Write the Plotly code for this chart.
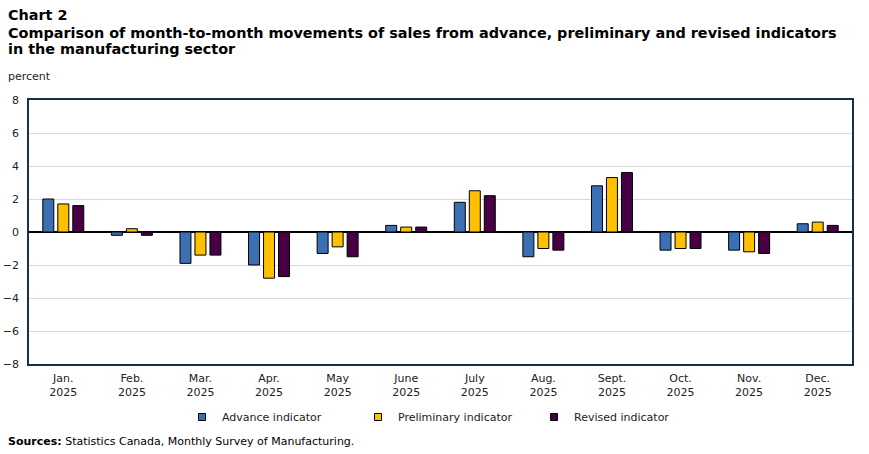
import plotly.graph_objects as go

months = ["Jan.", "Feb.", "Mar.", "Apr.", "May", "June", "July", "Aug.", "Sept.", "Oct.", "Nov.", "Dec."]
year = "2025"
categories = [f"{m}<br>{year}" for m in months]

advance = [2.0, -0.2, -1.9, -2.0, -1.3, 0.4, 1.8, -1.5, 2.8, -1.1, -1.1, 0.5]
preliminary = [1.7, 0.2, -1.4, -2.8, -0.9, 0.3, 2.5, -1.0, 3.3, -1.0, -1.2, 0.6]
revised = [1.6, -0.2, -1.4, -2.7, -1.5, 0.3, 2.2, -1.1, 3.6, -1.0, -1.3, 0.4]

series_names = ["Advance indicator", "Preliminary indicator", "Revised indicator"]
series_values = [advance, preliminary, revised]
colors = ["#3b70b5", "#ffc000", "#470044"]

y_ticks = [-8, -6, -4, -2, 0, 2, 4, 6, 8]

title_lines = [
    "Chart 2",
    "Comparison of month-to-month movements of sales from advance, preliminary and revised indicators",
    "in the manufacturing sector",
]

FONT = "Verdana, DejaVu Sans, sans-serif"
TITLE_FONT = "Verdana, DejaVu Sans, sans-serif"

W, H = 869, 454
ML, MR, MT, MB = 29, 17, 100, 90
PW, PH = W - ML - MR, H - MT - MB


def px_x(x):
    return (x - ML) / PW


def px_y(y):
    return (H - MB - y) / PH


fig = go.Figure()
for name, vals, col in zip(series_names, series_values, colors):
    fig.add_trace(go.Bar(
        x=categories, y=vals, name=name, showlegend=False,
        marker=dict(color=col, line=dict(color="#000000", width=1)),
    ))
for name, col in zip(series_names, colors):
    fig.add_trace(go.Scatter(
        x=[None], y=[None], mode="markers", name=name,
        marker=dict(symbol="square", size=7, color=col, line=dict(color="#000000", width=1)),
    ))

annotations = []
for txt, yc in zip(title_lines, [15, 32.5, 49.5]):
    annotations.append(dict(
        text=f"<b>{txt}</b>", xref="paper", yref="paper", x=px_x(6), y=px_y(yc),
        xanchor="left", yanchor="middle", showarrow=False,
        font=dict(family=TITLE_FONT, size=14.4, color="#000000")))
annotations.append(dict(
    text="percent", xref="paper", yref="paper", x=px_x(6), y=px_y(76),
    xanchor="left", yanchor="middle", showarrow=False,
    font=dict(family=FONT, size=11, color="#222222")))
annotations.append(dict(
    text="<b>Sources:</b> Statistics Canada, Monthly Survey of Manufacturing.",
    xref="paper", yref="paper", x=px_x(6), y=px_y(441),
    xanchor="left", yanchor="middle", showarrow=False,
    font=dict(family=FONT, size=11, color="#000000")))

fig.update_layout(
    width=W, height=H,
    margin=dict(l=ML, r=MR, t=MT, b=MB, autoexpand=False),
    paper_bgcolor="white", plot_bgcolor="white",
    barmode="group", bargap=0.344, bargroupgap=0.267,
    font=dict(family=FONT, size=11, color="#222222"),
    showlegend=True,
    legend=dict(
        orientation="h", x=182 / W, xanchor="left", xref="container",
        y=1 - 417 / H, yref="container", yanchor="middle",
        font=dict(family=FONT, size=11, color="#222222"),
        itemwidth=30, entrywidth=131, entrywidthmode="pixels",
        itemclick=False,
    ),
    annotations=annotations,
)

fig.update_xaxes(
    showline=True, linecolor="#1b2f4d", linewidth=1.5, mirror=True,
    showgrid=False, ticks="", automargin=False, ticklabelstandoff=3,
    tickfont=dict(family=FONT, size=11, color="#222222"),
    fixedrange=True,
)
fig.update_yaxes(
    range=[-8, 8], tickvals=y_ticks, showline=True, linecolor="#1b2f4d", linewidth=1.5, mirror=True,
    showgrid=True, gridcolor="#d9d9d9", gridwidth=1,
    zeroline=True, zerolinecolor="#000000", zerolinewidth=1.5,
    ticks="", ticklabelstandoff=6, automargin=False,
    tickfont=dict(family=FONT, size=11, color="#222222"),
    fixedrange=True,
)

fig.write_html("out.html")
